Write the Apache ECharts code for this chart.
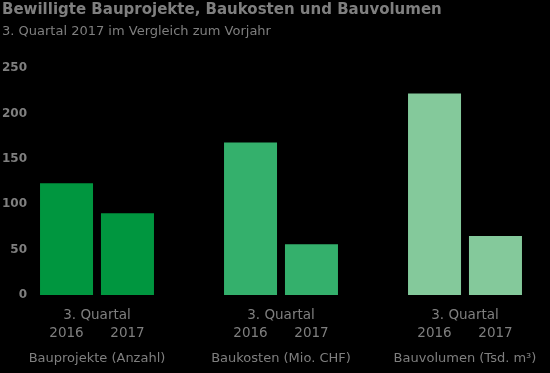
<!DOCTYPE html>
<html><head><meta charset="utf-8">
<script src="https://cdn.jsdelivr.net/npm/echarts@6/dist/echarts.min.js"></script>
<style>html,body{margin:0;padding:0;background:#000;}#c{width:550px;height:373px;}</style>
</head><body><div id="c"></div>
<script>
const categories = ['Bauprojekte (Anzahl)', 'Baukosten (Mio. CHF)', 'Bauvolumen (Tsd. m³)'];
const years = ['2016', '2017'];
const values2016 = [123, 168, 222];
const values2017 = [90, 56, 65];
const colors = ['#00963f', '#34b06c', '#84c99b'];
const yTicks = [0, 50, 100, 150, 200, 250];

const FONT = 'DejaVu Sans';
const GRAY = '#7f7f7f';
const chart = echarts.init(document.getElementById('c'));
chart.setOption({
  backgroundColor: '#000',
  animation: false,
  title: [
    {text: 'Bewilligte Bauprojekte, Baukosten und Bauvolumen', left: -3, top: -2,
     textStyle: {color: GRAY, fontFamily: FONT, fontWeight: 'bold', fontSize: 15}},
    {text: '3. Quartal 2017 im Vergleich zum Vorjahr', left: -3, top: 20,
     textStyle: {color: GRAY, fontFamily: FONT, fontWeight: 'normal', fontSize: 13}}
  ],
  grid: {left: 5, width: 552, top: 68, bottom: 78, containLabel: false, outerBoundsMode: 'none'},
  xAxis: {
    type: 'category', data: categories,
    axisLine: {show: false}, axisTick: {show: false},
    axisLabel: {
      margin: 11, interval: 0,
      formatter: function (v) {
        return '{q|3. Quartal}\n{y|' + years[0] + '}{y|' + years[1] + '}\n{n|' + v + '}';
      },
      rich: {
        q: {color: GRAY, fontFamily: FONT, fontSize: 13.5, lineHeight: 18, align: 'center'},
        y: {color: GRAY, fontFamily: FONT, fontSize: 13.5, lineHeight: 18, width: 61, align: 'center'},
        n: {color: GRAY, fontFamily: FONT, fontSize: 13, lineHeight: 34, align: 'center'}
      }
    }
  },
  yAxis: {
    type: 'value', min: 0, max: 250, interval: 50,
    splitLine: {show: false}, axisLine: {show: false}, axisTick: {show: false},
    axisLabel: {margin: -22, color: GRAY, fontFamily: FONT, fontSize: 12, fontWeight: 'bold',
      formatter: function (v) { return yTicks.indexOf(v) >= 0 ? String(v) : ''; }}
  },
  series: [
    {name: years[0], type: 'bar', barWidth: 53, barGap: '15%',
     data: values2016.map((v, i) => ({value: v, itemStyle: {color: colors[i]}}))},
    {name: years[1], type: 'bar', barWidth: 53, barGap: '15%',
     data: values2017.map((v, i) => ({value: v, itemStyle: {color: colors[i]}}))}
  ]
});
</script></body></html>
